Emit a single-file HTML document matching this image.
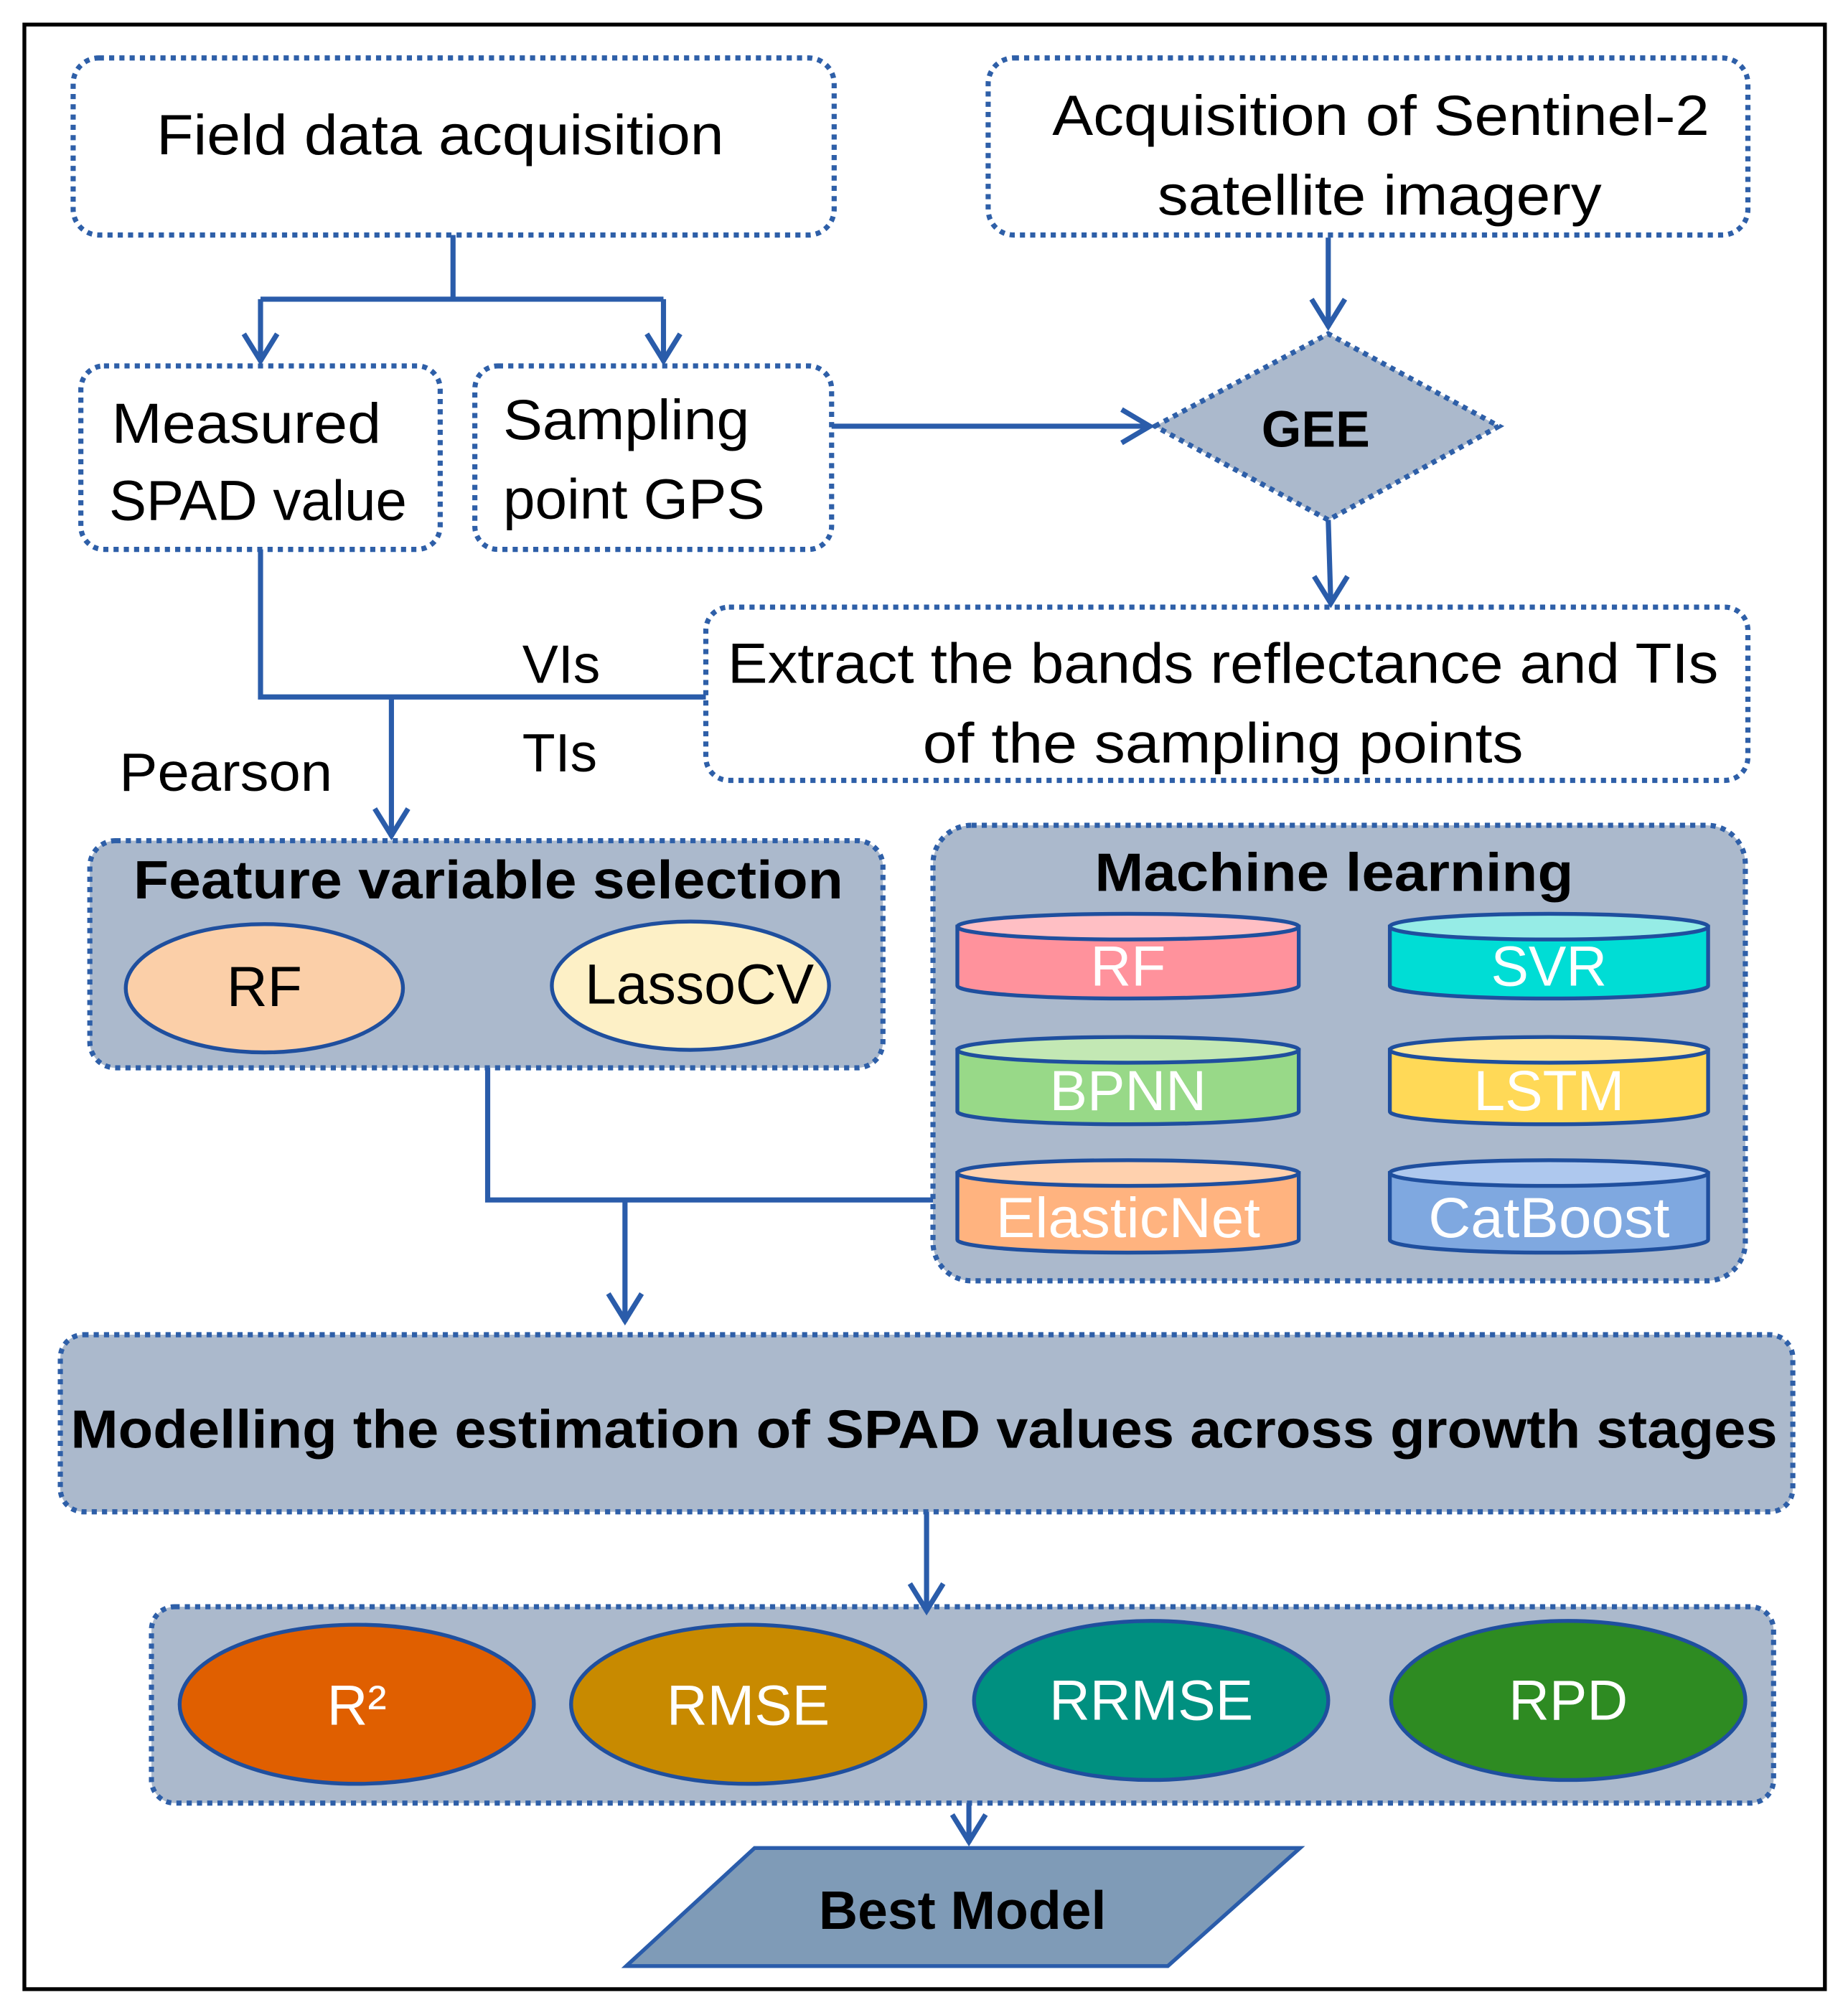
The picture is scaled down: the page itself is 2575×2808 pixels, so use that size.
<!DOCTYPE html>
<html><head><style>html,body{margin:0;padding:0;background:#fff}svg{display:block}</style></head>
<body>
<svg xmlns="http://www.w3.org/2000/svg" width="2575" height="2808" viewBox="0 0 1440 1570" font-family="'Liberation Sans', sans-serif">
<rect width="1440" height="1570" fill="#fff"/>
<rect x="19" y="19" width="1403" height="1531" fill="none" stroke="#000" stroke-width="3"/>
<g fill="none" stroke="#2e5fa8" stroke-width="4" stroke-dasharray="4 4">
<rect x="57" y="45" width="593" height="138" rx="20"/>
<rect x="770" y="45" width="592" height="138" rx="20"/>
<rect x="63" y="285" width="280" height="143" rx="18"/>
<rect x="370" y="285" width="278" height="143" rx="18"/>
<rect x="550" y="473" width="812" height="135" rx="18"/>
<rect x="70" y="655" width="618" height="177" rx="20" fill="#abb9cc"/>
<rect x="727" y="643" width="633" height="355" rx="30" fill="#abb9cc"/>
<rect x="47" y="1040" width="1350" height="138" rx="18" fill="#abb9cc"/>
<rect x="118" y="1252" width="1264" height="153" rx="18" fill="#abb9cc"/>
<polygon points="900,332 1035,260 1168,332 1035,405" fill="#abb9cc"/>
</g>
<g fill="none" stroke="#2a5caa" stroke-width="4" stroke-linejoin="miter">
<path d="M353,183 V233 M203,233 H517"/>
<path d="M203,233 V282 M190,260 L203,281 L216,260"/>
<path d="M517,233 V282 M504,260 L517,281 L530,260"/>
<path d="M648,332 H896 M874,319 L896,332 L874,345"/>
<path d="M1035,185 V255 M1022,233 L1035,254 L1048,233"/>
<path d="M1035,405 L1037,470 M1024,449 L1037,470 L1050,449"/>
<path d="M203,428 V543 H550"/>
<path d="M305,543 V652 M292,630 L305,651 L318,630"/>
<path d="M380,832 V935 H727"/>
<path d="M487,935 V1030 M474,1008 L487,1029 L500,1008"/>
<path d="M722,1178 V1256 M709,1234 L722,1255 L735,1234"/>
<path d="M755,1405 V1436 M742,1414 L755,1435 L768,1414"/>
</g>
<g font-size="44" fill="#000">
<text x="122" y="120" textLength="442" lengthAdjust="spacingAndGlyphs">Field data acquisition</text>
<text x="820" y="105" textLength="512" lengthAdjust="spacingAndGlyphs">Acquisition of Sentinel-2</text>
<text x="902" y="167" textLength="346" lengthAdjust="spacingAndGlyphs">satellite imagery</text>
<text x="87" y="345" textLength="210" lengthAdjust="spacingAndGlyphs">Measured</text>
<text x="85" y="405" textLength="232" lengthAdjust="spacingAndGlyphs">SPAD value</text>
<text x="392" y="342" textLength="192" lengthAdjust="spacingAndGlyphs">Sampling</text>
<text x="392" y="404" textLength="204" lengthAdjust="spacingAndGlyphs">point GPS</text>
<text x="567" y="532" textLength="772" lengthAdjust="spacingAndGlyphs">Extract the bands reflectance and TIs</text>
<text x="719" y="594" textLength="468" lengthAdjust="spacingAndGlyphs">of the sampling points</text>
<text x="407" y="532" font-size="42">VIs</text>
<text x="407" y="601" font-size="42">TIs</text>
<text x="93" y="616" font-size="42" textLength="166" lengthAdjust="spacingAndGlyphs">Pearson</text>
</g>
<g font-weight="bold" font-size="42" fill="#000">
<text x="983" y="348" font-size="40">GEE</text>
<text x="104" y="700" textLength="553" lengthAdjust="spacingAndGlyphs">Feature variable selection</text>
<text x="853" y="694" textLength="373" lengthAdjust="spacingAndGlyphs">Machine learning</text>
<text x="55" y="1128" textLength="1330" lengthAdjust="spacingAndGlyphs">Modelling the estimation of SPAD values across growth stages</text>
</g>
<g stroke="#1f4f9e" stroke-width="3">
<ellipse cx="206" cy="770" rx="108" ry="50" fill="#fbcfa8"/>
<ellipse cx="538" cy="768" rx="108" ry="50" fill="#fdf0c6"/>
</g>
<g font-size="44" text-anchor="middle" fill="#000">
<text x="206" y="784">RF</text>
<text x="545" y="782">LassoCV</text>
</g>
<g stroke="#1f4f9e" stroke-width="3">
<path d="M746,722 V768 A133,10 0 0 0 1012,768 V722 Z" fill="#ff929c"/><ellipse cx="879" cy="722" rx="133" ry="10" fill="#ffbfc4"/>
<path d="M1083,722 V768 A124,10 0 0 0 1331,768 V722 Z" fill="#00ddd5"/><ellipse cx="1207" cy="722" rx="124" ry="10" fill="#96ece6"/>
<path d="M746,818 V866 A133,10 0 0 0 1012,866 V818 Z" fill="#98d988"/><ellipse cx="879" cy="818" rx="133" ry="10" fill="#c3e8b4"/>
<path d="M1083,818 V866 A124,10 0 0 0 1331,866 V818 Z" fill="#ffd957"/><ellipse cx="1207" cy="818" rx="124" ry="10" fill="#ffe89a"/>
<path d="M746,914 V966 A133,10 0 0 0 1012,966 V914 Z" fill="#ffb37f"/><ellipse cx="879" cy="914" rx="133" ry="10" fill="#ffd1ae"/>
<path d="M1083,914 V966 A124,10 0 0 0 1331,966 V914 Z" fill="#7fa8e0"/><ellipse cx="1207" cy="914" rx="124" ry="10" fill="#aec8ee"/>
</g>
<g font-size="44" text-anchor="middle" fill="#fff">
<text x="879" y="768">RF</text>
<text x="1207" y="768">SVR</text>
<text x="879" y="865">BPNN</text>
<text x="1207" y="865">LSTM</text>
<text x="879" y="964" textLength="206" lengthAdjust="spacingAndGlyphs">ElasticNet</text>
<text x="1207" y="964" textLength="188" lengthAdjust="spacingAndGlyphs">CatBoost</text>
</g>
<g stroke="#1f4f9e" stroke-width="3">
<ellipse cx="278" cy="1328" rx="138" ry="62" fill="#e05f00"/>
<ellipse cx="583" cy="1328" rx="138" ry="62" fill="#c88a00"/>
<ellipse cx="897" cy="1325" rx="138" ry="62" fill="#009080"/>
<ellipse cx="1222" cy="1325" rx="138" ry="62" fill="#2e8b22"/>
</g>
<g font-size="44" text-anchor="middle" fill="#fff">
<text x="278" y="1344">R²</text>
<text x="583" y="1344">RMSE</text>
<text x="897" y="1340">RRMSE</text>
<text x="1222" y="1340">RPD</text>
</g>
<polygon points="488,1532 588,1440 1013,1440 910,1532" fill="#7f9bb7" stroke="#2a5caa" stroke-width="3"/>
<text x="750" y="1503" text-anchor="middle" font-weight="bold" font-size="42" fill="#000">Best Model</text>
</svg>
</body></html>
